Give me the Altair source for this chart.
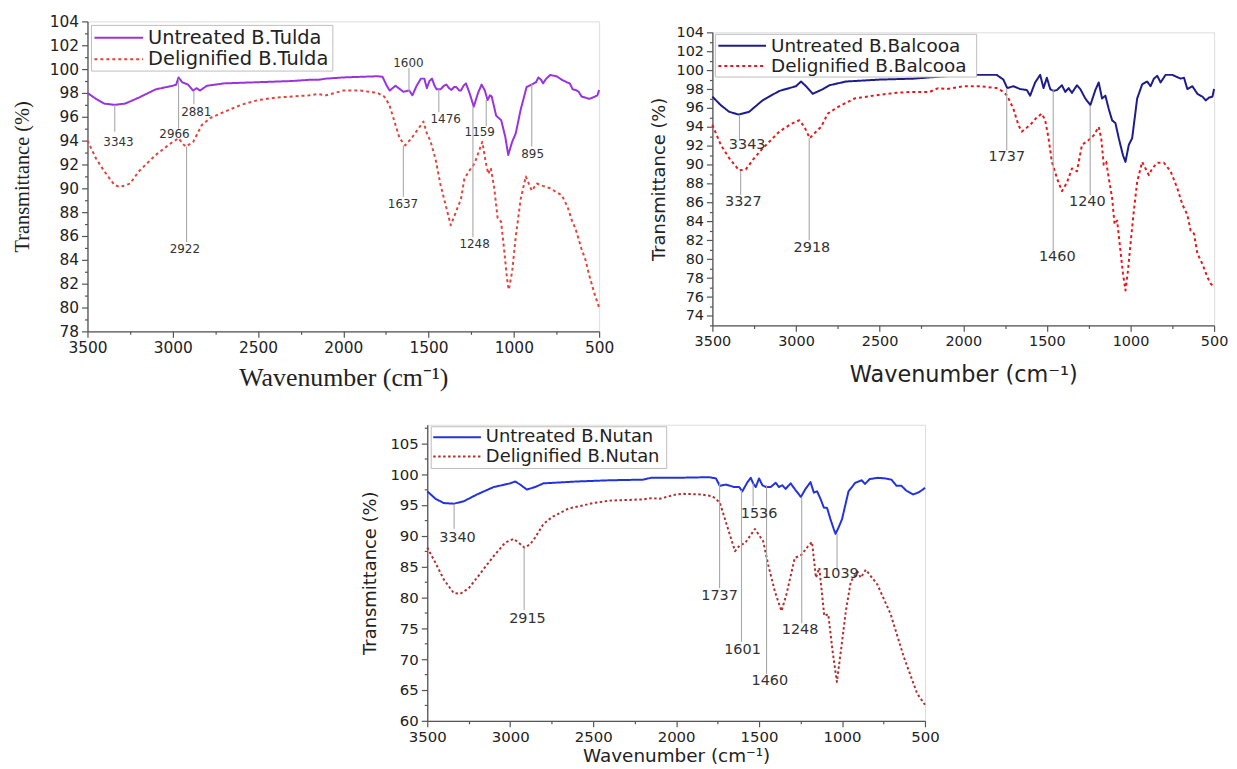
import altair as alt
import pandas as pd

SANS = "DejaVu Sans"
SERIF = "Liberation Serif"

# ---------------- Panel 1 : B.Tulda ----------------
tulda_u_wn = [3500, 3450, 3400, 3343, 3280, 3200, 3100, 3000, 2980, 2966, 2945, 2910, 2881, 2860, 2840, 2800,
              2700, 2500, 2300, 2200, 2150, 2100, 2000, 1900, 1800, 1770, 1745, 1728, 1694, 1648, 1613, 1595,
              1570, 1545, 1525, 1510, 1495, 1480, 1465, 1453, 1430, 1410, 1395, 1380, 1366, 1350, 1338, 1320,
              1310, 1295, 1281, 1260, 1235, 1210, 1189, 1170, 1154, 1140, 1130, 1115, 1104, 1074, 1050, 1033,
              1010, 989, 960, 925, 895, 870, 856, 840, 829, 810, 787, 750, 718, 690, 672, 655, 638, 620, 603,
              580, 558, 540, 523, 510, 500]
tulda_u_T = [98.0, 97.5, 97.1, 97.0, 97.1, 97.6, 98.3, 98.6, 98.7, 99.3, 98.9, 98.7, 98.2, 98.4, 98.2, 98.6,
             98.8, 98.9, 99.0, 99.1, 99.1, 99.2, 99.3, 99.35, 99.4, 99.35, 98.6, 98.2, 98.6, 98.1, 98.2, 97.8,
             98.6, 99.2, 99.2, 98.4, 99.0, 99.2, 98.6, 98.3, 98.3, 98.6, 98.7, 98.4, 98.25, 98.5, 98.5, 98.2,
             98.2, 98.6, 98.8, 98.0, 96.85, 98.0, 98.7, 98.2, 97.4, 97.8, 97.7, 96.8, 96.1, 95.7, 94.3, 92.8,
             93.9, 94.6, 96.6, 98.5, 98.7, 98.9, 99.3, 99.1, 98.8, 99.2, 99.5, 99.4, 99.1, 98.9, 98.8, 98.3,
             98.25, 98.1, 97.7, 97.6, 97.5, 97.6, 97.7, 97.8, 98.25]
tulda_d_wn = [3500, 3450, 3400, 3343, 3310, 3250, 3200, 3100, 3000, 2966, 2940, 2922, 2880, 2830, 2780, 2700,
              2600, 2500, 2400, 2300, 2200, 2150, 2100, 2000, 1900, 1800, 1760, 1730, 1700, 1670, 1637, 1600,
              1560, 1530, 1510, 1490, 1460, 1430, 1400, 1370, 1340, 1310, 1290, 1260, 1230, 1200, 1185, 1165,
              1150, 1135, 1115, 1095, 1075, 1055, 1040, 1030, 1010, 990, 960, 930, 895, 865, 830, 787, 718,
              684, 660, 638, 603, 580, 558, 530, 500]
tulda_d_T = [94.0, 92.5, 91.4, 90.3, 90.1, 90.4, 91.4, 92.8, 93.9, 94.2, 93.7, 93.5, 93.9, 95.3, 95.9, 96.4,
             97.0, 97.4, 97.6, 97.7, 97.8, 97.9, 97.8, 98.2, 98.2, 98.0, 97.7, 97.0, 95.6, 94.2, 93.6, 94.2,
             95.0, 95.6, 94.6, 94.0, 92.5, 90.3, 88.6, 86.9, 88.0, 89.1, 90.8, 91.5, 92.1, 93.3, 93.9, 92.2,
             91.2, 91.7, 90.0, 87.5, 87.2, 84.6, 82.4, 81.5, 83.0, 85.8, 89.1, 91.0, 89.8, 90.4, 90.2, 90.0,
             89.4, 88.4, 87.3, 86.6, 84.9, 84.0, 82.7, 81.3, 80.0]
tulda_ann_text = ["3343", "2966", "2881", "2922", "1600", "1637", "1476", "1248", "1159", "895"]
tulda_ann_x = [3340, 2966, 2876, 2919, 1615, 1648, 1440, 1240, 1162, 895]
tulda_ann_top = [97.0, 99.2, 98.2, 93.5, 100.1, 93.6, 98.3, 96.85, 97.4, 98.8]
tulda_ann_bot = [94.75, 95.0, 97.05, 85.5, 98.1, 89.3, 96.4, 85.9, 95.2, 93.5]
tulda_lab_x = [3318, 2990, 2862, 2929, 1618, 1650, 1400, 1230, 1200, 890]
tulda_lab_y = [93.85, 94.55, 96.4, 84.9, 100.5, 88.65, 95.8, 85.35, 94.75, 92.9]

# ---------------- Panel 2 : B.Balcooa ----------------
balc_u_wn = [3500, 3450, 3400, 3343, 3280, 3200, 3100, 3000, 2970, 2940, 2900, 2850, 2800, 2700, 2500, 2300,
             2150, 2000, 1800, 1760, 1737, 1700, 1660, 1620, 1600, 1570, 1540, 1520, 1500, 1480, 1460, 1440,
             1410, 1390, 1370, 1350, 1320, 1300, 1270, 1240, 1210, 1190, 1170, 1150, 1130, 1110, 1090, 1070,
             1045, 1030, 1010, 990, 960, 930, 900, 880, 860, 840, 820, 790, 750, 700, 680, 660, 630, 600, 570,
             550, 530, 510, 500]
balc_u_T = [97.2, 96.3, 95.6, 95.3, 95.6, 96.8, 97.8, 98.3, 98.8, 98.3, 97.5, 97.9, 98.4, 98.8, 99.0, 99.1,
            99.3, 99.5, 99.5, 99.0, 98.1, 98.3, 98.0, 97.9, 97.3, 98.7, 99.5, 98.1, 99.2, 98.0, 97.8, 97.9,
            98.4, 97.7, 98.1, 97.6, 98.4, 98.0, 97.0, 96.3, 97.9, 98.7, 97.0, 97.3, 95.9, 94.7, 94.4, 92.8,
            91.0, 90.3, 92.1, 92.8, 97.0, 98.5, 98.8, 98.3, 99.1, 99.4, 98.7, 99.5, 99.5, 99.1, 99.2, 98.0,
            98.3, 97.5, 97.2, 96.8, 97.1, 97.2, 98.0]
balc_d_wn = [3500, 3450, 3400, 3340, 3300, 3250, 3200, 3100, 3030, 2980, 2950, 2918, 2880, 2850, 2810, 2750,
             2650, 2500, 2400, 2300, 2200, 2150, 2100, 2000, 1900, 1800, 1760, 1737, 1700, 1670, 1650, 1600,
             1560, 1530, 1510, 1490, 1470, 1440, 1410, 1380, 1350, 1320, 1290, 1250, 1220, 1190, 1175, 1160,
             1145, 1130, 1110, 1095, 1080, 1060, 1045, 1030, 1015, 1000, 980, 960, 930, 910, 890, 870, 840,
             800, 760, 720, 690, 660, 640, 620, 600, 570, 540, 520, 500]
balc_d_T = [94.2, 92.1, 90.7, 89.4, 89.5, 90.7, 91.7, 93.5, 94.3, 94.7, 94.0, 92.8, 93.5, 94.0, 95.4, 96.1,
            97.0, 97.4, 97.6, 97.7, 97.7, 98.1, 98.0, 98.3, 98.3, 98.1, 97.7, 97.3, 95.9, 94.2, 93.5, 94.2,
            95.0, 95.4, 94.7, 92.8, 90.3, 88.6, 87.2, 88.1, 89.6, 89.3, 92.1, 92.6, 93.1, 94.0, 92.8, 90.0,
            90.3, 88.6, 86.5, 83.7, 84.1, 80.9, 78.5, 76.7, 78.8, 81.6, 85.1, 88.2, 90.3, 89.6, 88.9, 89.6,
            90.2, 90.2, 89.3, 87.5, 85.8, 84.7, 83.0, 82.7, 80.6, 79.5, 78.1, 77.4, 77.1]
balc_ann_text = ["3343", "3327", "2918", "1737", "1460", "1240"]
balc_ann_x = [3338, 3331, 2921, 1740, 1462, 1241]
balc_ann_top = [95.3, 89.3, 92.8, 98.1, 98.0, 96.3]
balc_ann_bot = [92.6, 86.8, 82.0, 91.5, 80.9, 86.8]
balc_lab_x = [3292, 3315, 2905, 1740, 1438, 1258]
balc_lab_y = [92.1, 86.1, 81.2, 90.8, 80.2, 86.1]

# ---------------- Panel 3 : B.Nutan ----------------
nutan_u_wn = [3500, 3450, 3400, 3340, 3280, 3200, 3100, 3000, 2970, 2940, 2900, 2850, 2800, 2600, 2400, 2200,
              2150, 2000, 1800, 1760, 1737, 1700, 1650, 1620, 1601, 1570, 1550, 1536, 1520, 1500, 1480, 1460,
              1430, 1400, 1380, 1360, 1340, 1310, 1280, 1248, 1220, 1190, 1170, 1150, 1130, 1110, 1090, 1070,
              1050, 1039, 1020, 1000, 961, 920, 881, 862, 833, 783, 740, 702, 672, 642, 612, 572, 542, 512, 500]
nutan_u_T = [97.2, 96.0, 95.3, 95.2, 95.6, 96.7, 97.9, 98.5, 98.8, 98.3, 97.5, 97.9, 98.5, 98.8, 99.0, 99.1,
             99.4, 99.4, 99.5, 99.3, 98.1, 98.3, 97.9, 97.9, 97.2, 98.7, 99.4, 98.5, 97.9, 99.3, 98.2, 97.9,
             97.9, 98.6, 97.9, 98.2, 97.6, 98.5, 97.4, 96.3, 97.6, 98.7, 97.0, 97.2, 96.0, 94.6, 94.5, 92.7,
             91.1, 90.3, 91.4, 92.7, 97.2, 98.6, 99.0, 98.4, 99.2, 99.4, 99.3, 99.1, 98.1, 98.1, 97.3, 96.7,
             97.0, 97.5, 97.8]
nutan_d_wn = [3500, 3450, 3400, 3340, 3300, 3250, 3200, 3100, 3030, 2980, 2950, 2915, 2880, 2850, 2800, 2750,
              2650, 2500, 2400, 2300, 2200, 2150, 2100, 2000, 1950, 1850, 1780, 1737, 1695, 1645, 1615, 1585,
              1525, 1475, 1445, 1405, 1365, 1335, 1285, 1245, 1205, 1181, 1157, 1137, 1107, 1083, 1057, 1031,
              1007, 977, 947, 907, 887, 857, 787, 707, 627, 547, 500]
nutan_d_T = [88.1, 85.6, 82.9, 80.7, 80.6, 81.5, 83.2, 86.7, 88.9, 89.5, 88.9, 88.1, 88.6, 89.7, 91.9, 93.0,
             94.4, 95.3, 95.7, 95.8, 95.9, 96.1, 96.0, 96.7, 96.8, 96.7, 96.4, 95.4, 91.8, 87.5, 88.5, 88.8,
             91.1, 89.1, 85.3, 81.0, 77.8, 80.5, 86.4, 86.9, 88.3, 89.0, 83.2, 84.8, 77.0, 77.3, 71.3, 66.3,
             71.3, 77.8, 82.6, 84.2, 83.2, 84.5, 82.1, 77.3, 70.3, 64.4, 62.6]
nutan_ann_text = ["3340", "2915", "1737", "1601", "1536", "1460", "1248", "1039"]
nutan_ann_x = [3338, 2916, 1738, 1606, 1536, 1455, 1243, 1030]
nutan_ann_top = [95.2, 88.1, 98.7, 97.4, 98.5, 98.2, 96.3, 90.3]
nutan_ann_bot = [91.1, 78.0, 81.5, 72.8, 94.8, 67.6, 75.8, 84.3]
nutan_lab_x = [3318, 2896, 1738, 1600, 1500, 1435, 1253, 1010]
nutan_lab_y = [89.7, 76.5, 80.3, 71.4, 93.5, 66.4, 74.7, 83.8]

X_TITLE = "Wavenumber (cm\u207b\u00b9)"
Y_TITLE = "Transmittance (%)"
AXIS_COLOR = "#555555"
ONE = pd.DataFrame({"a": [0]})


def legend_layers(names, colors, dash, box, sym, text_x, rows, size):
    bx0, bx1, by0, by1 = box
    layers = [alt.Chart(ONE).mark_rect(fill="white", stroke="#bdbdbd", strokeWidth=1).encode(
        x=alt.value(bx0), x2=alt.value(bx1), y=alt.value(by0), y2=alt.value(by1))]
    dashes = [[1, 0], dash]
    for name, col, d, ry in zip(names, colors, dashes, rows):
        layers.append(alt.Chart(ONE).mark_rule(color=col, strokeWidth=2, strokeDash=d).encode(
            x=alt.value(sym[0]), x2=alt.value(sym[1]), y=alt.value(ry)))
        layers.append(alt.Chart(ONE).mark_text(font=SANS, fontSize=size, color="#222222", align="left",
                                               baseline="middle").encode(
            x=alt.value(text_x), y=alt.value(ry), text=alt.value(name)))
    return layers


def make_panel(u_name, d_name, u_wn, u_T, d_wn, d_T, ann_text, ann_x, ann_top, ann_bot, lab_x, lab_y,
               colors, dash, ydom, ymajor, yminor, width, height, title_font, xtitle_size, ytitle_size,
               label_size, ann_size, ytitle_pad, xtitle_pad, leg):
    rows = []
    for i, (w, t) in enumerate(zip(u_wn, u_T)):
        rows.append({"wn": w, "T": t, "series": u_name, "i": i})
    for i, (w, t) in enumerate(zip(d_wn, d_T)):
        rows.append({"wn": w, "T": t, "series": d_name, "i": i})
    df = pd.DataFrame(rows)

    xvals = list(range(500, 3501, 250))
    n = int(round((ydom[1] - ydom[0]) / yminor))
    yvals = [ydom[0] + k * yminor for k in range(n + 1)]

    common = dict(grid=False, domainColor=AXIS_COLOR, domainWidth=1.3, tickColor=AXIS_COLOR, tickWidth=1.2,
                  labelFont=SANS, labelFontSize=label_size, labelColor="#222", labelFlush=False,
                  labelOverlap=False, labelPadding=3, titleFont=title_font, titleFontWeight="normal",
                  titleColor="#222", format="d")
    x_axis = alt.Axis(values=xvals,
                      labelExpr="datum.value % 500 == 0 ? datum.label : ''",
                      tickSize={"condition": {"test": "datum.value % 500 == 0", "value": 6}, "value": 3},
                      title=X_TITLE, titleFontSize=xtitle_size, titlePadding=xtitle_pad, **common)
    y_axis = alt.Axis(values=yvals,
                      labelExpr="datum.value %% %d == 0 ? datum.label : ''" % ymajor,
                      tickSize={"condition": {"test": "datum.value %% %d == 0" % ymajor, "value": 6}, "value": 3},
                      title=Y_TITLE, titleFontSize=ytitle_size, titlePadding=ytitle_pad, **common)
    xsc = alt.Scale(domain=[500, 3500], reverse=True, nice=False, zero=False)
    ysc = alt.Scale(domain=ydom, nice=False, zero=False)

    lines = alt.Chart(df).mark_line(strokeWidth=2, strokeJoin="round").encode(
        x=alt.X("wn:Q", scale=xsc, axis=x_axis),
        y=alt.Y("T:Q", scale=ysc, axis=y_axis),
        color=alt.Color("series:N", scale=alt.Scale(domain=[u_name, d_name], range=colors), legend=None),
        strokeDash=alt.StrokeDash("series:N", scale=alt.Scale(domain=[u_name, d_name], range=[[1, 0], dash]),
                                  legend=None),
        order=alt.Order("i:Q"),
    )
    rule_df = pd.DataFrame({"wn": ann_x, "T": ann_top, "T2": ann_bot})
    rules = alt.Chart(rule_df).mark_rule(color="#a8a8a8", strokeWidth=1.1).encode(
        x=alt.X("wn:Q", scale=xsc, axis=x_axis),
        y=alt.Y("T:Q", scale=ysc, axis=y_axis),
        y2="T2:Q",
    )
    text_df = pd.DataFrame({"wn": lab_x, "T": lab_y, "label": ann_text})
    texts = alt.Chart(text_df).mark_text(font=SANS, fontSize=ann_size, color="#333333",
                                         baseline="middle", align="center").encode(
        x=alt.X("wn:Q", scale=xsc, axis=x_axis),
        y=alt.Y("T:Q", scale=ysc, axis=y_axis),
        text="label:N",
    )
    layers = [lines, rules, texts] + legend_layers([u_name, d_name], colors, dash, **leg)
    return alt.layer(*layers).properties(width=width, height=height)


p1 = make_panel("Untreated B.Tulda", "Delignified B.Tulda", tulda_u_wn, tulda_u_T, tulda_d_wn, tulda_d_T,
                tulda_ann_text, tulda_ann_x, tulda_ann_top, tulda_ann_bot, tulda_lab_x, tulda_lab_y,
                ["#9933dd", "#e0443c"], [3, 3], [78, 104], 2, 1, 515, 312, SERIF, 26, 20.5, 15.5, 12, 17, 9,
                dict(box=(4, 247, 4, 50), sym=(7, 56), text_x=61, rows=(16.5, 38), size=19.5))

p2 = make_panel("Untreated B.Balcooa", "Delignified B.Balcooa", balc_u_wn, balc_u_T, balc_d_wn, balc_d_T,
                balc_ann_text, balc_ann_x, balc_ann_top, balc_ann_bot, balc_lab_x, balc_lab_y,
                ["#1c1c8c", "#e3191c"], [3, 3], [73, 104], 2, 1, 505, 295, SANS, 22.5, 18, 14.5, 14.5, 8, 16,
                dict(box=(3, 266, 2, 45), sym=(6, 54), text_x=59, rows=(13.5, 34), size=18.5))

p3 = make_panel("Untreated B.Nutan", "Delignified B.Nutan", nutan_u_wn, nutan_u_T, nutan_d_wn, nutan_d_T,
                nutan_ann_text, nutan_ann_x, nutan_ann_top, nutan_ann_bot, nutan_lab_x, nutan_lab_y,
                ["#2233dd", "#b03030"], [2.5, 2.5], [60, 108], 5, 2.5, 501, 298, SANS, 18.5, 18, 15, 14.5, 10, 2,
                dict(box=(4, 241, 2, 44), sym=(6, 54), text_x=59, rows=(12.5, 32), size=18))


def spacer(w, h):
    return alt.Chart(ONE).mark_point(opacity=0).properties(
        width=w, height=h, view=alt.ViewBackground(stroke="transparent"))


def thin_spacer():
    # 1px-tall empty cell with no overflowing marks, used to push panel 2 a little lower
    return alt.Chart(ONE).mark_rule(opacity=0).encode(x=alt.value(0)).properties(
        width=1, height=1, view=alt.ViewBackground(stroke="transparent"))


p2_col = alt.vconcat(thin_spacer(), p2, spacing=0).resolve_scale(color="independent",
                                                                strokeDash="independent")
top = alt.hconcat(p1, p2_col, spacing=34).resolve_scale(color="independent", strokeDash="independent")
bottom = alt.hconcat(spacer(260, 10), p3, spacing=14).resolve_scale(color="independent",
                                                                    strokeDash="independent")

chart = alt.vconcat(top, bottom, spacing=29).resolve_scale(
    color="independent", strokeDash="independent"
).properties(
    padding={"left": 3, "top": 3, "right": 0, "bottom": 0}
).configure_view(stroke=AXIS_COLOR, strokeWidth=1.3).configure(background="white")

chart.save("out.html", embed_options={"renderer": "svg", "actions": False})
